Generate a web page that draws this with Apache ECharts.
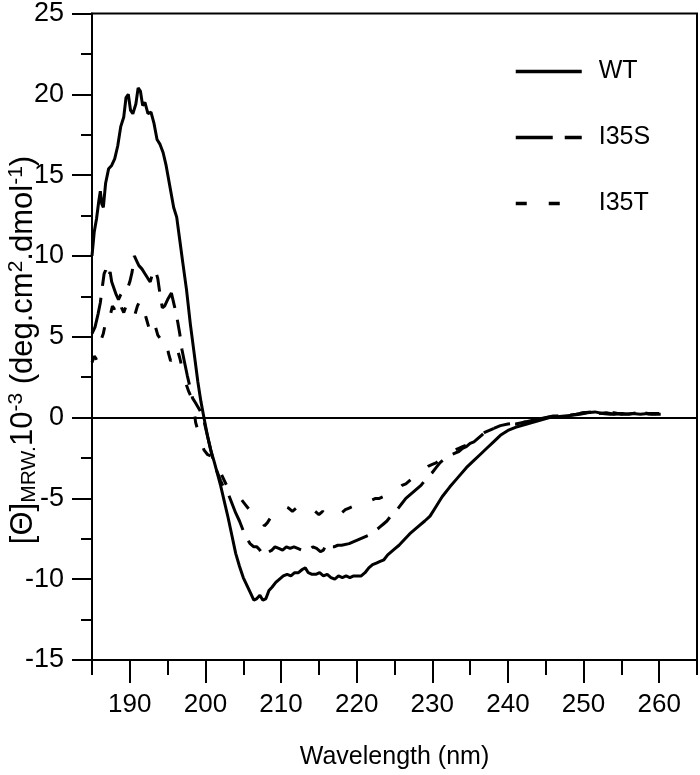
<!DOCTYPE html>
<html>
<head>
<meta charset="utf-8">
<script src="https://cdn.jsdelivr.net/npm/echarts@6/dist/echarts.min.js"></script>
<style>
html,body{margin:0;padding:0;background:#fff;}
#c{width:700px;height:775px;}
</style>
</head>
<body>
<div id="c"></div>
<script>
// Wavelength (nm) / ellipticity values
var wtX = [185.0,185.3,185.6,185.9,186.1,186.3,186.5,186.8,187.2,187.6,188.0,188.4,188.8,189.2,189.5,189.8,190.1,190.4,190.8,191.1,191.4,191.7,192.0,192.4,192.8,193.2,193.6,194.0,194.4,194.8,195.3,195.8,196.2,196.6,197.0,197.5,198.0,198.5,199.0,199.4,199.8,200.3,200.7,201.2,201.6,202.0,202.5,203.0,203.5,204.0,204.5,205.0,205.5,206.0,206.4,206.8,207.2,207.6,208.0,208.4,208.8,209.3,209.8,210.3,210.8,211.3,211.8,212.3,212.8,213.2,213.6,214.1,214.6,215.1,215.6,216.1,216.6,217.1,217.6,218.1,218.6,219.1,219.6,220.1,220.6,221.1,221.6,222.1,222.6,223.1,223.6,224.1,224.6,225.1,225.6,226.0,227.0,228.0,229.0,229.7,230.5,231.3,232.3,233.4,234.5,235.4,236.3,237.2,238.1,239.0,240.0,241.0,242.5,244.0,245.5,246.5,247.5,248.5,249.5,250.5,251.5,252.5,253.5,254.5,255.5,256.5,257.5,258.5,259.5,260.2];
var wtY = [10.0,11.5,12.3,13.4,14.0,13.2,13.0,14.5,15.4,15.6,16.0,16.8,18.0,18.6,19.8,20.0,19.0,18.8,19.4,20.4,20.2,19.3,19.5,18.8,18.9,18.2,17.2,16.9,16.4,15.6,14.3,13.0,12.4,11.0,9.6,7.9,5.8,4.0,2.2,1.0,0.0,-1.2,-2.0,-2.8,-3.5,-4.2,-5.2,-6.2,-7.3,-8.4,-9.2,-9.9,-10.4,-10.9,-11.3,-11.2,-11.0,-11.3,-11.2,-10.7,-10.5,-10.2,-10.0,-9.8,-9.7,-9.8,-9.6,-9.6,-9.4,-9.3,-9.6,-9.7,-9.7,-9.6,-9.8,-9.7,-9.9,-10.0,-9.8,-9.9,-9.8,-9.9,-9.8,-9.8,-9.8,-9.6,-9.3,-9.1,-9.0,-8.9,-8.8,-8.5,-8.3,-8.1,-7.9,-7.7,-7.2,-6.8,-6.4,-6.1,-5.5,-4.9,-4.3,-3.7,-3.1,-2.7,-2.3,-1.9,-1.5,-1.1,-0.8,-0.6,-0.4,-0.2,0.0,0.05,0.1,0.15,0.2,0.3,0.35,0.25,0.2,0.25,0.2,0.25,0.2,0.25,0.2,0.2];

var s35X = [185.0,185.4,185.8,186.1,186.4,186.6,186.8,187.0,187.2,187.4,187.6,187.9,188.2,188.5,188.8,189.1,189.4,189.7,190.0,190.3,190.6,190.9,191.2,191.6,192.0,192.4,192.7,193.0,193.4,193.7,194.0,194.3,194.6,195.0,195.5,195.9,196.3,196.6,196.9,197.2,197.6,198.0,198.3,198.7,199.2,199.7,200.2,200.6,201.0,201.5,202.0,202.5,203.0,203.5,204.0,204.5,205.0,205.5,205.9,206.4,206.8,207.2,207.6,208.0,208.4,208.8,209.2,209.7,210.2,210.7,211.2,211.7,212.2,212.7,213.2,213.7,214.2,214.7,215.2,215.6,216.0,216.5,217.0,217.5,218.0,219.0,220.0,221.0,222.0,222.5,223.0,223.5,224.0,224.5,225.0,225.5,226.0,226.5,227.0,227.5,228.0,228.5,229.0,229.5,230.0,230.5,231.0,231.5,232.0,232.5,233.0,233.5,234.0,234.5,235.0,235.5,236.0,236.5,237.0,237.5,238.0,239.0,240.0,241.0,242.0,243.0,244.0,245.0,246.0,247.0,248.0,249.0,250.0,251.0,252.0,253.0,254.0,255.0,256.0,257.0,258.0,259.0,260.0];
var s35Y = [5.2,5.6,6.4,7.1,8.2,8.9,9.1,8.6,8.8,9.0,8.4,8.0,7.6,7.3,7.6,7.8,7.9,8.0,8.4,9.0,10.0,9.7,9.4,9.2,8.9,8.6,8.4,8.9,9.1,8.6,7.6,6.8,6.9,7.3,7.7,6.9,6.0,5.2,4.2,3.5,2.6,1.8,1.2,0.9,0.5,0.0,-1.0,-1.8,-2.6,-3.3,-3.9,-4.4,-4.7,-5.3,-5.9,-6.4,-7.0,-7.5,-7.8,-8.0,-8.0,-8.2,-8.5,-8.5,-8.3,-8.2,-8.0,-8.1,-8.2,-8.0,-8.1,-8.0,-8.1,-8.2,-8.1,-8.2,-8.0,-8.1,-8.3,-8.2,-7.8,-8.0,-8.0,-7.9,-7.9,-7.8,-7.6,-7.4,-7.2,-7.0,-6.8,-6.6,-6.4,-6.1,-5.9,-5.6,-5.3,-5.0,-4.8,-4.6,-4.4,-4.2,-3.9,-3.6,-3.4,-3.1,-2.8,-2.6,-2.5,-2.3,-2.2,-2.1,-1.9,-1.8,-1.6,-1.5,-1.3,-1.1,-0.9,-0.8,-0.7,-0.5,-0.4,-0.35,-0.3,-0.2,-0.1,0.0,0.05,0.1,0.15,0.2,0.3,0.3,0.25,0.3,0.2,0.25,0.2,0.3,0.2,0.25,0.25];

var t35X = [185.0,185.3,185.6,185.9,186.2,186.5,186.8,187.1,187.4,187.7,188.0,188.3,188.6,188.9,189.2,189.5,189.8,190.1,190.4,190.7,191.0,191.3,191.6,191.9,192.2,192.5,192.8,193.1,193.4,193.7,194.0,194.4,194.8,195.1,195.4,195.7,196.0,196.3,196.6,196.9,197.2,197.5,197.8,198.1,198.4,198.7,199.0,199.4,199.8,200.3,200.8,201.3,201.8,202.3,202.8,203.3,203.8,204.3,204.8,205.3,205.8,206.3,206.8,207.3,207.8,208.2,208.6,209.0,209.5,210.0,210.5,211.0,211.5,212.0,212.5,213.0,213.5,214.0,214.5,215.0,215.5,216.0,216.5,217.0,217.5,218.0,218.5,219.0,219.5,220.0,220.5,221.0,221.5,222.0,222.5,223.0,223.5,224.0,224.5,225.0,225.5,226.0,226.5,227.0,227.5,228.0,228.5,229.0,229.5,230.0,230.5,231.0,231.5,232.0,232.5,233.0,233.5,234.0,234.5,235.0,235.5,236.0,237.0,238.0,239.0,240.0,241.0,242.0,243.0,244.0,245.0,246.0,247.0,248.0,249.0,250.0,251.0,252.0,253.0,254.0,255.0,256.0,257.0,258.0,259.0,260.0];
var t35Y = [3.4,3.8,3.6,4.3,4.8,5.2,5.9,6.5,6.3,6.9,6.7,7.2,7.4,6.8,6.5,6.9,7.2,7.0,6.6,6.4,6.9,7.2,7.3,6.6,6.1,5.6,5.0,5.4,5.6,5.1,4.9,5.1,4.9,4.0,3.5,3.8,4.4,4.2,3.7,3.1,2.6,2.0,1.6,1.3,0.8,-0.3,-0.8,-1.4,-2.0,-2.3,-2.4,-2.8,-3.2,-3.7,-4.2,-4.4,-4.6,-4.8,-5.1,-5.4,-5.7,-5.8,-6.0,-6.3,-6.7,-6.5,-6.2,-6.1,-5.9,-5.7,-5.5,-5.6,-5.8,-5.6,-5.7,-5.9,-5.8,-5.9,-5.8,-6.0,-5.8,-6.0,-5.9,-6.0,-5.8,-5.9,-5.7,-5.6,-5.5,-5.4,-5.4,-5.3,-5.2,-5.1,-5.0,-5.0,-4.9,-4.8,-4.7,-4.5,-4.4,-4.2,-4.1,-3.9,-3.7,-3.5,-3.3,-3.2,-3.0,-2.9,-2.8,-2.6,-2.5,-2.3,-2.2,-2.0,-1.9,-1.8,-1.7,-1.5,-1.4,-1.2,-0.9,-0.7,-0.5,-0.4,-0.4,-0.3,-0.2,-0.1,0.0,0.1,0.1,0.2,0.2,0.3,0.35,0.3,0.25,0.3,0.2,0.25,0.2,0.3,0.2,0.25];

var seriesNames = ['WT', 'I35S', 'I35T'];
var xMajorTicks = [190, 200, 210, 220, 230, 240, 250, 260];

function pairs(xs, ys) {
  var out = [];
  for (var i = 0; i < xs.length; i++) out.push([xs[i], ys[i]]);
  return out;
}

var FONT = "'Liberation Sans', Arial, sans-serif";
var chart = echarts.init(document.getElementById('c'), null, {renderer: 'canvas'});

var lineCommon = {type: 'line', showSymbol: false, symbol: 'none', animation: false, xAxisIndex: 0, yAxisIndex: 0};

chart.setOption({
  animation: false,
  backgroundColor: '#fff',
  grid: {left: 92, right: 2, top: 11, bottom: 110, show: true, borderColor: '#000', borderWidth: 2, backgroundColor: 'transparent'},
  legend: {
    orient: 'vertical', left: 514, top: 59, padding: 0, itemWidth: 66, itemHeight: 14, itemGap: 41,
    data: seriesNames,
    itemStyle: {opacity: 0, color: 'transparent', borderWidth: 0},
    lineStyle: {width: 3.5},
    textStyle: {fontFamily: FONT, fontSize: 25, color: '#000', padding: [0, 0, 0, 12], lineHeight: 25},
    selectedMode: false
  },
  xAxis: [{
    type: 'value', min: 185, max: 265, interval: 5,
    axisLine: {show: true, onZero: false, lineStyle: {color: '#000', width: 2}},
    axisTick: {show: true, length: 15, lineStyle: {color: '#000', width: 2}},
    axisLabel: {show: true, fontFamily: FONT, fontSize: 26, color: '#000', margin: 32,
      formatter: function (v) { return (v % 10 === 0) ? String(v) : ''; }},
    splitLine: {show: false},
    name: 'Wavelength (nm)', nameLocation: 'middle', nameGap: 85,
    nameTextStyle: {fontFamily: FONT, fontSize: 25, color: '#000'}
  }, {
    type: 'value', min: 185, max: 265, position: 'bottom', offset: 0,
    axisLine: {show: false, onZero: false},
    axisTick: {show: true, length: 23, customValues: xMajorTicks, lineStyle: {color: '#000', width: 2}},
    axisLabel: {show: false},
    splitLine: {show: false}
  }],
  yAxis: {
    type: 'value', min: -15, max: 25, interval: 5,
    axisLine: {show: true, onZero: false, lineStyle: {color: '#000', width: 2}},
    axisTick: {show: true, length: 20, lineStyle: {color: '#000', width: 2}},
    minorTick: {show: true, splitNumber: 2, length: 11, lineStyle: {color: '#000', width: 2}},
    axisLabel: {fontFamily: FONT, fontSize: 27, color: '#000', margin: 28},
    splitLine: {show: false},
    minorSplitLine: {show: false}
  },
  graphic: [{
    type: 'text', x: 23, y: 350, rotation: Math.PI / 2,
    style: {
      text: '{n|[Θ]}{sub|MRW.}{n|10}{sup|-3}{n| (deg.cm}{sup|2}{n|.dmol}{sup|-1}{n|)}',
      align: 'center', verticalAlign: 'middle',
      rich: {
        n: {fontFamily: FONT, fontSize: 31, fill: '#000', lineHeight: 34, verticalAlign: 'middle'},
        sub: {fontFamily: FONT, fontSize: 21, fill: '#000', lineHeight: 21, verticalAlign: 'bottom'},
        sup: {fontFamily: FONT, fontSize: 21, fill: '#000', lineHeight: 21, verticalAlign: 'top'}
      }
    }
  }],
  series: [
    Object.assign({}, lineCommon, {
      name: seriesNames[0], data: pairs(wtX, wtY),
      lineStyle: {color: '#000', width: 3, type: 'solid'}, itemStyle: {color: '#000'},
      markLine: {silent: true, symbol: 'none', label: {show: false},
        lineStyle: {color: '#000', width: 2, type: 'solid'}, data: [{yAxis: 0}]}
    }),
    Object.assign({}, lineCommon, {
      name: seriesNames[1], data: pairs(s35X, s35Y),
      lineStyle: {color: '#000', width: 3, type: [37, 12, 17, 12]}, itemStyle: {color: '#000'}
    }),
    Object.assign({}, lineCommon, {
      name: seriesNames[2], data: pairs(t35X, t35Y),
      lineStyle: {color: '#000', width: 3, type: [11, 22]}, itemStyle: {color: '#000'}
    })
  ]
});
</script>
</body>
</html>
